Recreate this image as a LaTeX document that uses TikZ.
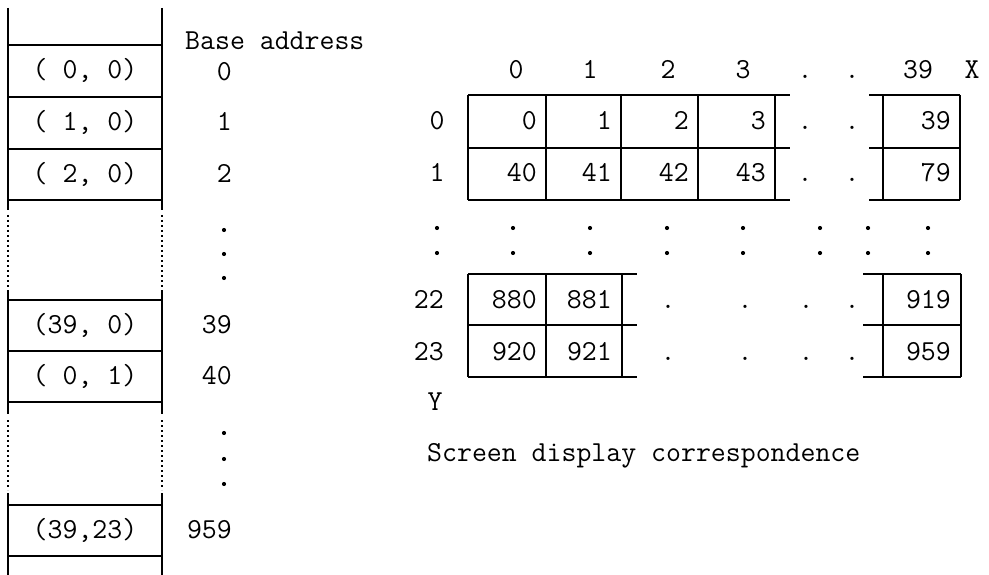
\documentclass[tikz,border=0pt]{standalone}
\usepackage{fontspec}
\usetikzlibrary{positioning}
\begin{document}
\begin{tikzpicture}[x=1pt,y=-1pt,
        font=\ttfamily\fontsize{29}{34}\selectfont,
        wall/.style={line width=2.2pt},
        gap/.style={line width=1.8pt, dash pattern=on 2pt off 3pt},
        lbl/.style={inner sep=0pt, anchor=base},
        addr/.style={inner sep=0pt, anchor=base east},
        note/.style={inner sep=0pt, anchor=base west},
        dotmark/.style={fill=black},
    ]
    \useasboundingbox (0,0) rectangle (989,575);

    \foreach \x in {8,162} {
        \draw[wall] (\x,8) -- (\x,210);
        \draw[gap] (\x,215) -- (\x,290);
        \draw[wall] (\x,290) -- (\x,414);
        \draw[gap] (\x,420) -- (\x,490);
        \draw[wall] (\x,493) -- (\x,575);
    }
    \foreach \y in {45,97,149,200,300,351,402,505,556}
    \draw[wall] (8,\y) -- (162,\y);

    \node[lbl] (m00)  at (85,79)    {( 0, 0)};
    \node[lbl] (m10)  at (85,131)   {( 1, 0)};
    \node[lbl] (m20)  at (85,182.5) {( 2, 0)};
    \node[lbl] (m390) at (85,333.5) {(39, 0)};
    \node[lbl] (m01)  at (85,384.5) {( 0, 1)};
    \node[lbl] (mend) at (85,538.5) {(39,23)};

    \node[note] (base) at (185,50) {Base address};
    \node[addr] (a0)   at (232,80.5)  {0};
    \node[addr] (a1)   at (232,131)   {1};
    \node[addr] (a2)   at (232,182.5) {2};
    \node[addr] (a39)  at (232,333.5) {39};
    \node[addr] (a40)  at (232,384.5) {40};
    \node[addr] (a959) at (232,538.5) {959};
    \foreach \y in {230,254,278,433,459,484}
    \fill[dotmark] (224,\y) circle (2.1pt);

    \node[lbl] (h0)  at (516,79) {0};
    \node[lbl] (h1)  at (590,79) {1};
    \node[lbl] (h2)  at (668,79) {2};
    \node[lbl] (h3)  at (743,79) {3};
    \node[lbl] (hd1) at (805,79) {.};
    \node[lbl] (hd2) at (852,79) {.};
    \node[lbl] (h39) at (918,79) {39};
    \node[lbl] (hx)  at (972,79) {X};

    \foreach \y in {95,148,200} {
        \draw[wall] (468,\y) -- (790,\y);
        \draw[wall] (869,\y) -- (960,\y);
    }
    \foreach \x in {468,546,621,698,775,883,960}
    \draw[wall] (\x,95) -- (\x,200);

    \node[lbl]  (r0)  at (437,130) {0};
    \node[lbl]  (r1)  at (437,182) {1};
    \node[addr] (c0)  at (537,130) {0};
    \node[addr] (c1)  at (612,130) {1};
    \node[addr] (c2)  at (689,130) {2};
    \node[addr] (c3)  at (766,130) {3};
    \node[addr] (c39) at (951,130) {39};
    \node[addr] (c40) at (537,182) {40};
    \node[addr] (c41) at (612,182) {41};
    \node[addr] (c42) at (689,182) {42};
    \node[addr] (c43) at (766,182) {43};
    \node[addr] (c79) at (951,182) {79};
    \foreach \y [count=\i] in {130,182} {
        \node[lbl] (ra\i) at (805,\y) {.};
        \node[lbl] (rb\i) at (852,\y) {.};
    }

    \foreach \x in {437,513,590,667,743,820,868,928} {
        \fill[dotmark] (\x,228) circle (2.1pt);
        \fill[dotmark] (\x,253) circle (2.1pt);
    }

    \foreach \y in {274,325,377} {
        \draw[wall] (468,\y) -- (637,\y);
        \draw[wall] (863,\y) -- (961,\y);
    }
    \foreach \x in {468,546,622}
    \draw[wall] (\x,274) -- (\x,377);
    \foreach \x in {883,961}
    \draw[wall] (\x,274) -- (\x,377);

    \node[addr] (r22)  at (444,308) {22};
    \node[addr] (r23)  at (444,360) {23};
    \node[addr] (c880) at (537,308) {880};
    \node[addr] (c881) at (612,308) {881};
    \node[addr] (c919) at (951,308) {919};
    \node[addr] (c920) at (537,360) {920};
    \node[addr] (c921) at (612,360) {921};
    \node[addr] (c959) at (951,360) {959};
    \foreach \y [count=\j] in {308,360}
    \foreach \x [count=\i] in {668,745,806,852}
    \node[lbl] (d\j\i) at (\x,\y) {.};

    \node[lbl]  (ylbl)  at (435,410) {Y};
    \node[note] (title) at (427,461) {Screen display correspondence};
\end{tikzpicture}
\end{document}
